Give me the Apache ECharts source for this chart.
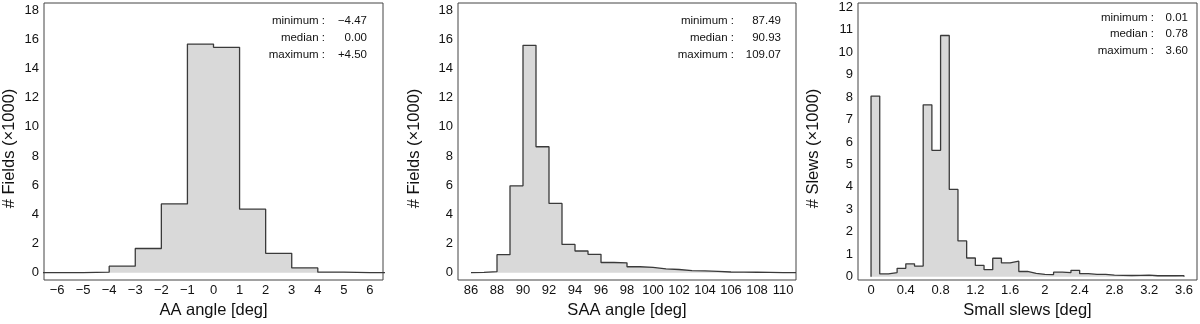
<!DOCTYPE html>
<html>
<head>
<meta charset="utf-8">
<title>Fields and slews histograms</title>
<script src="https://cdn.jsdelivr.net/npm/echarts@6/dist/echarts.min.js"></script>
<style>
  html, body { margin: 0; padding: 0; background: #fff; }
  #chart { width: 1200px; height: 324px; }
</style>
</head>
<body>
<div id="chart"></div>
<script>
// AA angle histogram, bin edges [deg] and counts (x1000)
var aaEdges = [-7, -6, -5, -4, -3, -2, -1, 0, 1, 2, 3, 4, 5, 6, 7];
var aaCounts = [0, 0, 0.04, 0.45, 1.66, 4.72, 15.68, 15.46, 4.36, 1.33, 0.33, 0.04, 0, 0];
var aaTicks = [-6, -5, -4, -3, -2, -1, 0, 1, 2, 3, 4, 5, 6];
var aaStats = ['\u22124.47', '0.00', '+4.50'];

// SAA angle histogram
var saaEdges = [86, 87, 88, 89, 90, 91, 92, 93, 94, 95, 96, 97, 98, 99, 100,
  101, 102, 103, 104, 105, 106, 107, 108, 109, 110, 111];
var saaCounts = [0.02, 0.07, 1.24, 5.96, 15.6, 8.64, 4.75, 1.94, 1.49, 1.26, 0.7, 0.68,
  0.41, 0.36, 0.27, 0.22, 0.14, 0.12, 0.09, 0.05, 0.04, 0.03, 0.02, 0.01, 0];
var saaTicks = [86, 88, 90, 92, 94, 96, 98, 100, 102, 104, 106, 108, 110];
var saaStats = ['87.49', '90.93', '109.07'];

// small slews histogram
var slewEdges = [0, 0.1, 0.2, 0.3, 0.4, 0.5, 0.6, 0.7, 0.8, 0.9, 1.0, 1.1, 1.2, 1.3, 1.4,
  1.5, 1.6, 1.7, 1.8, 1.9, 2.0, 2.1, 2.2, 2.3, 2.4, 2.5, 2.6, 2.7, 2.8, 2.9, 3.0,
  3.1, 3.2, 3.3, 3.4, 3.5, 3.6];
var slewCounts = [8.05, 0.12, 0.18, 0.37, 0.57, 0.47, 7.66, 5.63, 10.75, 3.89, 1.59, 0.83,
  0.5, 0.31, 0.82, 0.61, 0.69, 0.23, 0.15, 0.1, 0.09, 0.2, 0.18, 0.28, 0.13, 0.1,
  0.1, 0.07, 0.06, 0.05, 0.06, 0.07, 0.04, 0.04, 0.04, 0.04];
var slewTicks = [0, 0.4, 0.8, 1.2, 1.6, 2, 2.4, 2.8, 3.2, 3.6];
var slewStats = ['0.01', '0.78', '3.60'];

var fieldTicks = [0, 2, 4, 6, 8, 10, 12, 14, 16, 18];
var slewCountTicks = [0, 1, 2, 3, 4, 5, 6, 7, 8, 9, 10, 11, 12];
var statLabels = ['minimum :', 'median :', 'maximum :'];

var FONT = '"Liberation Sans", Arial, Helvetica, sans-serif';
var TEXT = '#111';
var LINE = '#3a3a3a';

function stepPoints(edges, counts) {
  var pts = [[edges[0], 0]];
  for (var i = 0; i < counts.length; i++) {
    pts.push([edges[i], counts[i]]);
  }
  pts.push([edges[edges.length - 1], counts[counts.length - 1]]);
  pts.push([edges[edges.length - 1], 0]);
  return pts;
}

function minusFmt(v) {
  return String(v).replace('-', '\u2212');
}

function xAxis(idx, min, max, ticks, name) {
  return {
    type: 'value', gridIndex: idx, min: min, max: max,
    name: name, nameLocation: 'middle', nameGap: 22,
    nameTextStyle: { fontFamily: FONT, fontSize: 16.5, color: TEXT },
    axisLine: { show: false }, axisTick: { show: false }, splitLine: { show: false },
    axisLabel: {
      customValues: ticks, formatter: minusFmt, margin: 4,
      fontFamily: FONT, fontSize: 13, color: TEXT
    }
  };
}

function yAxis(idx, min, max, ticks, name, gap) {
  return {
    type: 'value', gridIndex: idx, min: min, max: max,
    name: name, nameLocation: 'middle', nameGap: gap,
    nameTextStyle: { fontFamily: FONT, fontSize: 16.5, color: TEXT, padding: [0, 14, 0, 0] },
    axisLine: { show: false }, axisTick: { show: false }, splitLine: { show: false },
    axisLabel: {
      customValues: ticks, margin: 5,
      fontFamily: FONT, fontSize: 13, color: TEXT
    }
  };
}

function histSeries(idx, edges, counts) {
  return {
    type: 'line', xAxisIndex: idx, yAxisIndex: idx,
    data: stepPoints(edges, counts), step: 'end',
    showSymbol: false, symbol: 'none',
    lineStyle: { color: LINE, width: 1.3 },
    areaStyle: { color: '#d9d9d9', opacity: 1 },
    silent: true
  };
}

function statsText(labelRight, valueRight, top, values) {
  var out = [];
  for (var i = 0; i < statLabels.length; i++) {
    out.push({
      type: 'text', x: labelRight, y: top + i * 16.8,
      style: { text: statLabels[i], align: 'right', verticalAlign: 'middle',
        font: '11.5px ' + FONT, fill: TEXT }
    });
    out.push({
      type: 'text', x: valueRight, y: top + i * 16.8,
      style: { text: values[i], align: 'right', verticalAlign: 'middle',
        font: '11.5px ' + FONT, fill: TEXT }
    });
  }
  return out;
}

var gridStyle = { show: true, borderColor: '#444', borderWidth: 1, backgroundColor: 'transparent' };

var chart = echarts.init(document.getElementById('chart'), null, { renderer: 'canvas' });
chart.setOption({
  animation: false,
  backgroundColor: '#fff',
  grid: [
    Object.assign({ left: 43, top: 3, width: 340, height: 281 }, gridStyle),
    Object.assign({ left: 458, top: 3, width: 338, height: 281 }, gridStyle),
    Object.assign({ left: 858, top: 3, width: 339, height: 281 }, gridStyle)
  ],
  xAxis: [
    xAxis(0, -6.5, 6.5, aaTicks, 'AA angle [deg]'),
    xAxis(1, 85, 111, saaTicks, 'SAA angle [deg]'),
    xAxis(2, -0.15, 3.75, slewTicks, 'Small slews [deg]')
  ],
  yAxis: [
    yAxis(0, -0.5, 18.5, fieldTicks, '# Fields (\u00d71000)', 26),
    yAxis(1, -0.5, 18.5, fieldTicks, '# Fields (\u00d71000)', 35),
    yAxis(2, -0.15, 12.2, slewCountTicks, '# Slews (\u00d71000)', 36)
  ],
  series: [
    histSeries(0, aaEdges, aaCounts),
    histSeries(1, saaEdges, saaCounts),
    histSeries(2, slewEdges, slewCounts)
  ],
  graphic: [].concat(
    statsText(325, 367, 21, aaStats),
    statsText(734, 781, 21, saaStats),
    statsText(1154, 1188, 17.5, slewStats)
  )
});
</script>
</body>
</html>
